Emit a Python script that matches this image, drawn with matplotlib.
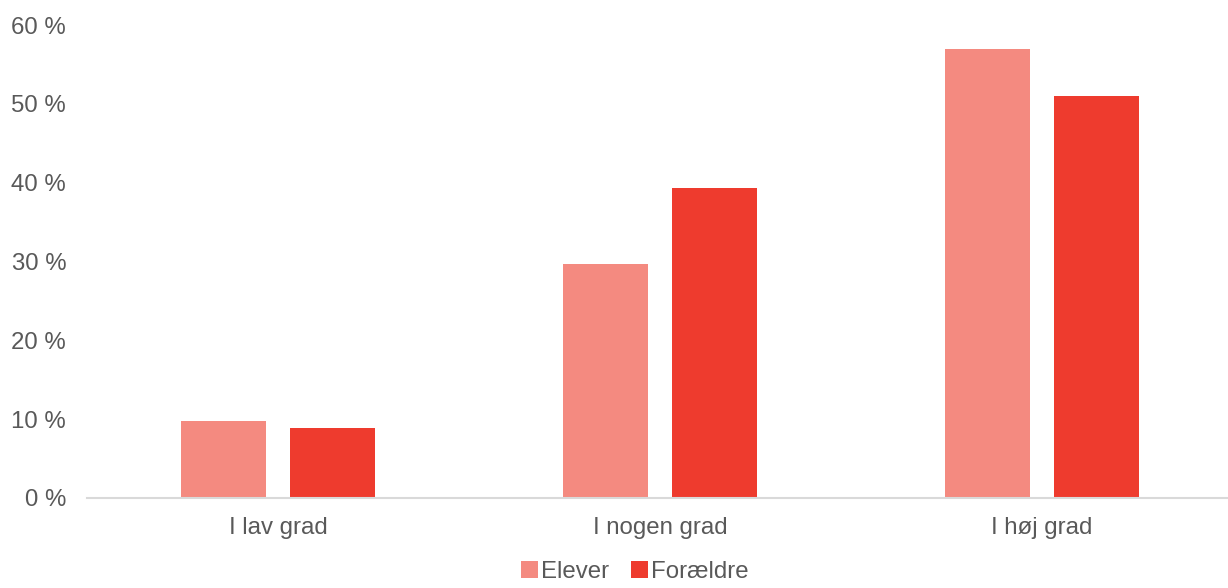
import matplotlib.pyplot as plt
import numpy as np

categories = ["I lav grad", "I nogen grad", "I høj grad"]
series_names = ["Elever", "Forældre"]
elever = [9.8, 29.7, 56.9]
foraeldre = [8.9, 39.3, 51.0]
yticks = [0, 10, 20, 30, 40, 50, 60]

colors = ["#F48A80", "#EE3B2E"]
text_color = "#595959"

plt.rcParams["font.family"] = ["Liberation Sans", "DejaVu Sans"]

fig = plt.figure(figsize=(12.28, 5.88), dpi=100)
ax = fig.add_axes([87 / 1228, 1 - 498 / 588, 1146 / 1228, 473 / 588])

x = np.arange(len(categories))
width = 0.224
offset = 0.143
ax.bar(x - offset, elever, width, color=colors[0], label=series_names[0])
ax.bar(x + offset, foraeldre, width, color=colors[1], label=series_names[1])

ax.set_xlim(-0.5, len(categories) - 0.5)
ax.set_ylim(0, 60)
ax.set_yticks(yticks)
ax.set_yticklabels([f"{v} %" for v in yticks])
ax.set_xticks(x)
ax.set_xticklabels(categories)
ax.tick_params(axis="both", length=0, labelsize=17.3, colors=text_color)
ax.tick_params(axis="y", pad=15)
ax.tick_params(axis="x", pad=14)
for side in ["top", "right", "left"]:
    ax.spines[side].set_visible(False)
ax.spines["bottom"].set_color("#D9D9D9")
ax.spines["bottom"].set_linewidth(1.5)

# legend sits at the very bottom edge, as in the reference
leg = fig.legend(loc="lower center", bbox_to_anchor=(0.5 + 21 / 1228, -0.028), ncol=2, frameon=False,
                 fontsize=17.3, handlelength=0.7, handleheight=0.7, handletextpad=0.15, columnspacing=0.9)
for t in leg.get_texts():
    t.set_color(text_color)

fig.savefig("out.png", dpi=100)
